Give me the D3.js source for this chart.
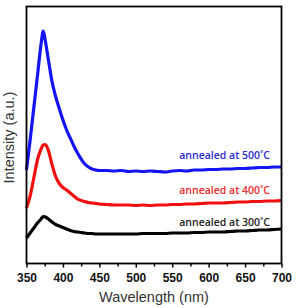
<!DOCTYPE html>
<html>
<head>
<meta charset="utf-8">
<script src="https://cdn.jsdelivr.net/npm/d3@7"></script>
<style>
  html, body { margin: 0; padding: 0; background: #fff; }
  svg { display: block; }
</style>
</head>
<body>
<div id="chart"></div>
<script>
// PL spectra, intensity in arbitrary units
const wavelengths = [350, 355, 360, 365, 370, 373, 376, 380, 385, 390, 395, 400, 405, 410, 415, 420, 425, 430, 435, 440, 445, 450,
  460, 470, 480, 490, 500, 510, 520, 530, 540, 550, 560, 570, 580, 590, 600, 610, 620, 630, 640, 650, 660, 670, 680, 690, 700];

const intensity500 = [93.5, 123.5, 155.5, 187.5, 219.5, 232.5, 222, 204, 182, 167, 155, 143.5, 133.5, 125.5, 117.5, 110.5, 104.5, 99.5, 96.5, 94.5, 93.5, 93,
  93, 92.5, 93, 92, 92.5, 92, 92.5, 92, 91.5, 92.5, 93, 92.5, 93.5, 93.5, 94, 94, 94.5, 94.5, 95, 95, 95.5, 96, 96, 96.5, 96.5];

const intensity400 = [55.5, 67.5, 85.5, 103.5, 114.5, 118.5, 119, 113, 99, 87, 80, 76, 73.5, 70.5, 67.5, 64.5, 63, 62, 61, 60.5, 60, 59.5,
  59, 58.5, 58.5, 58.5, 58, 58.5, 58, 58.5, 58.5, 59, 59, 59.5, 59.5, 60, 60.5, 60.5, 60.5, 61, 61.5, 61.5, 62, 62, 62.5, 62.5, 63];

const intensity300 = [25.5, 30.5, 35.5, 40.5, 44.5, 47, 46.5, 44.5, 41.5, 39, 37.5, 36, 34.5, 33, 32, 31.5, 31, 30.5, 30, 30, 29.5, 29.5,
  29.5, 29.5, 29.5, 29.5, 29.5, 30, 30, 30, 30, 30.5, 30.5, 30.5, 31, 31, 31.5, 31.5, 31.5, 32, 32.5, 32.5, 33, 33.5, 33.5, 34, 34.5];

const seriesLabels = ["annealed at 500˚C", "annealed at 400˚C", "annealed at 300˚C"];
const xTicks = [350, 400, 450, 500, 550, 600, 650, 700];

const width = 296, height = 308;
const plotLeft = 26.5, plotRight = 281.5, plotTop = 6.5, plotBottom = 263.5;

const svg = d3.select("#chart").append("svg")
  .attr("width", width)
  .attr("height", height);

const x = d3.scaleLinear().domain([350, 700]).range([plotLeft, plotRight]);
const y = d3.scaleLinear().domain([0, 257]).range([plotBottom, plotTop]);

const series = [
  { values: intensity500, color: "#1414f5", label: seriesLabels[0], textColor: "#2a2ad6", labelY: 96 },
  { values: intensity400, color: "#f01010", label: seriesLabels[1], textColor: "#ee2a2a", labelY: 60.5 },
  { values: intensity300, color: "#000000", label: seriesLabels[2], textColor: "#222222", labelY: 29 }
];

const line = d3.line()
  .x((d, i) => x(wavelengths[i]))
  .y(d => y(d))
  .curve(d3.curveMonotoneX);

svg.append("g")
  .selectAll("path")
  .data(series)
  .enter()
  .append("path")
  .attr("d", d => line(d.values))
  .attr("fill", "none")
  .attr("stroke", d => d.color)
  .attr("stroke-width", 3.2)
  .attr("stroke-linejoin", "round");

svg.append("g")
  .selectAll("text")
  .data(series)
  .enter()
  .append("text")
  .attr("x", 270)
  .attr("y", d => y(d.labelY) - 9)
  .attr("text-anchor", "end")
  .attr("font-family", "Open Sans")
  .attr("font-size", "10.5px")
  .attr("font-weight", 600)
  .attr("fill", d => d.textColor)
  .text(d => d.label);

// frame
svg.append("rect")
  .attr("x", plotLeft)
  .attr("y", plotTop)
  .attr("width", plotRight - plotLeft)
  .attr("height", plotBottom - plotTop)
  .attr("fill", "none")
  .attr("stroke", "#000")
  .attr("stroke-width", 1.8);

// minor ticks
svg.append("g")
  .attr("transform", `translate(0,${plotBottom})`)
  .call(d3.axisBottom(x).tickValues(d3.range(375, 700, 50)).tickSize(3).tickFormat(""))
  .call(g => g.select(".domain").remove())
  .selectAll("line").attr("stroke-width", 1.5);

const xAxis = svg.append("g")
  .attr("transform", `translate(0,${plotBottom})`)
  .call(d3.axisBottom(x).tickValues(xTicks).tickSize(4).tickPadding(6).tickFormat(d3.format("d")));
xAxis.select(".domain").remove();
xAxis.selectAll("line").attr("stroke-width", 1.5);
xAxis.selectAll("text")
  .attr("font-family", "Arial, 'Liberation Sans', sans-serif")
  .attr("font-size", "12px")
  .attr("font-weight", "bold")
  .attr("fill", "#111");

svg.append("text")
  .attr("x", (plotLeft + plotRight) / 2)
  .attr("y", 302)
  .attr("text-anchor", "middle")
  .attr("font-family", "Arial, 'Liberation Sans', sans-serif")
  .attr("font-size", "14.5px")
  .attr("fill", "#333")
  .text("Wavelength (nm)");

svg.append("text")
  .attr("transform", `translate(14,137.5) rotate(-90)`)
  .attr("text-anchor", "middle")
  .attr("font-family", "Arial, 'Liberation Sans', sans-serif")
  .attr("font-size", "14.5px")
  .attr("fill", "#333")
  .text("Intensity (a.u.)");
</script>
</body>
</html>
